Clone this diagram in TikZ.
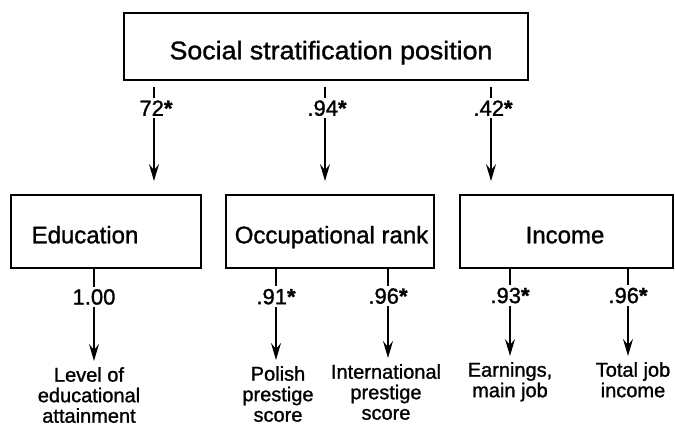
\documentclass[tikz,border=0pt]{standalone}
\usepackage{fontspec}
\setmainfont[FakeBold=1.2]{Liberation Sans}
\newfontfamily\widefont[FakeStretch=1.05,FakeBold=1.2]{Liberation Sans}
\usetikzlibrary{arrows.meta}
\newcommand{\bast}{\textbf{*}}
\begin{document}
\begin{tikzpicture}[x=1pt,y=-1pt,
  box/.style={draw, line width=1.8pt, rectangle, inner sep=0pt},
  boxtext/.style={anchor=base, inner sep=0pt, font=\fontsize{24}{28}\selectfont},
  lab/.style={fill=white, inner sep=2.5pt, font=\fontsize{22}{24}\selectfont},
  leaf/.style={anchor=north, align=center, inner sep=0pt, font=\fontsize{20}{20.5}\selectfont},
  arr/.style={line width=1.8pt, -{Stealth[length=17pt,width=10pt,inset=6pt]}},
]
\useasboundingbox (0,0) rectangle (675,427);

% boxes
\node[box, minimum width=404pt, minimum height=67pt] (top) at (326,46.5) {};
\node[boxtext, font=\widefont\fontsize{25.5}{30}\selectfont] (topT) at (331,59.3) {Social stratification position};
\node[box, minimum width=190pt, minimum height=73pt] (edu) at (106,231.5) {};
\node[boxtext] (eduT) at (85,243.3) {Education};
\node[box, minimum width=208pt, minimum height=73pt] (occ) at (330,231.5) {};
\node[boxtext] (occT) at (331.5,243.3) {Occupational rank};
\node[box, minimum width=213pt, minimum height=73pt] (inc) at (566.5,231.5) {};
\node[boxtext] (incT) at (565,243.3) {Income};

% indicators
\node[leaf] (lev) at (89,367) {Level of\\educational\\attainment};
\node[leaf] (pol) at (278,366) {Polish\\prestige\\score};
\node[leaf] (intl) at (386,364) {International\\prestige\\score};
\node[leaf] (earn) at (510,362) {Earnings,\\main job};
\node[leaf] (tot) at (633,362) {Total job\\income};

% arrow columns
\coordinate (c1) at (154,0);
\coordinate (c2) at (325,0);
\coordinate (c3) at (491,0);
\coordinate (d1) at (94,0);
\coordinate (d2) at (276,0);
\coordinate (d3) at (388,0);
\coordinate (d4) at (510,0);
\coordinate (d5) at (628,0);

\draw[arr, shorten <=6pt, shorten >=13pt] (c1 |- top.south) -- node[lab, pos=0.241, xshift=2pt] (l1) {72\bast} (c1 |- edu.north);
\draw[arr, shorten <=6pt, shorten >=13pt] (c2 |- top.south) -- node[lab, pos=0.241, xshift=2pt] (l2) {.94\bast} (c2 |- occ.north);
\draw[arr, shorten <=6pt, shorten >=13pt] (c3 |- top.south) -- node[lab, pos=0.241, xshift=2pt] (l3) {.42\bast} (c3 |- inc.north);

\draw[arr, shorten >=6pt] (d1 |- edu.south) -- node[lab, pos=0.286] (m1) {1.00} (d1 |- lev.north);
\draw[arr, shorten >=6pt] (d2 |- occ.south) -- node[lab, pos=0.286] (m2) {.91\bast} (d2 |- pol.north);
\draw[arr, shorten >=6pt] (d3 |- occ.south) -- node[lab, pos=0.286] (m3) {.96\bast} (d3 |- intl.north);
\draw[arr, shorten >=6pt] (d4 |- inc.south) -- node[lab, pos=0.286] (m4) {.93\bast} (d4 |- earn.north);
\draw[arr, shorten >=6pt] (d5 |- inc.south) -- node[lab, pos=0.286] (m5) {.96\bast} (d5 |- tot.north);
\end{tikzpicture}
\end{document}
